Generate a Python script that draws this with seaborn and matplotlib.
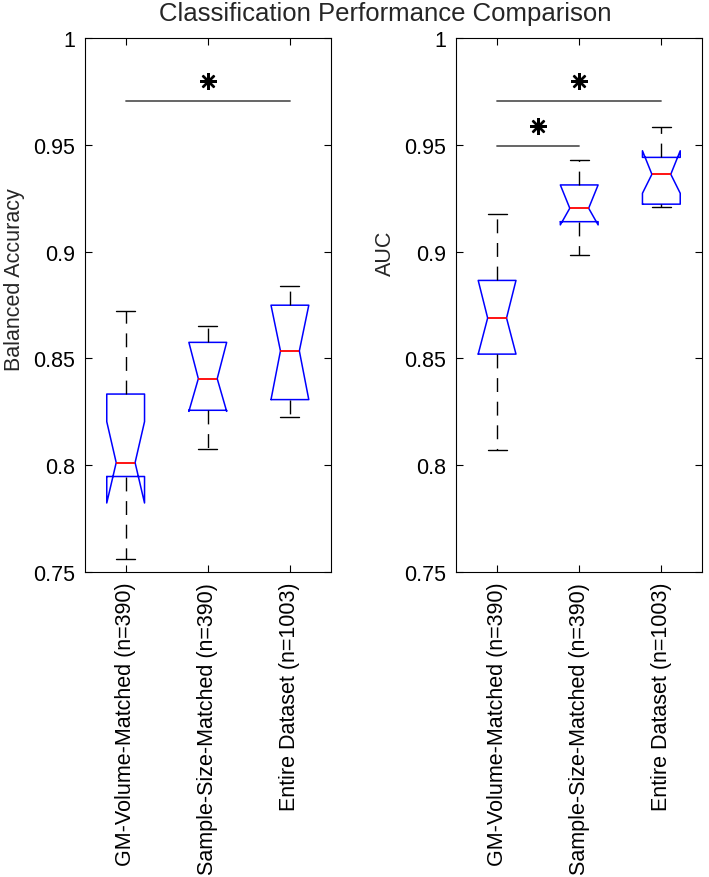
"""Notched box plots: balanced accuracy and AUC for three training sets."""
import matplotlib
matplotlib.use('Agg')
import matplotlib.pyplot as plt
import seaborn as sns

groups = ['GM-Volume-Matched (n=390)', 'Sample-Size-Matched (n=390)', 'Entire Dataset (n=1003)']
positions = [1, 2, 3]

# balanced accuracy: whiskers, quartiles, median, notch limits
bacc_lo = [0.7562, 0.8076, 0.8227]
bacc_q1 = [0.7947, 0.8257, 0.8307]
bacc_med = [0.8012, 0.8405, 0.8535]
bacc_q3 = [0.8333, 0.8575, 0.8749]
bacc_hi = [0.8720, 0.8653, 0.8840]
bacc_cilo = [0.7823, 0.8252, 0.8307]
bacc_cihi = [0.8204, 0.8575, 0.8749]

# AUC
auc_lo = [0.8073, 0.8984, 0.9208]
auc_q1 = [0.8520, 0.9140, 0.9222]
auc_med = [0.8689, 0.9203, 0.9362]
auc_q3 = [0.8865, 0.9312, 0.9441]
auc_hi = [0.9178, 0.9431, 0.9583]
auc_cilo = [0.8520, 0.9125, 0.9273]
auc_cihi = [0.8865, 0.9312, 0.9472]

# significance brackets (from group, to group, bar height)
bacc_sig_from = [1]
bacc_sig_to = [3]
bacc_sig_y = [0.9703]
auc_sig_from = [1, 1]
auc_sig_to = [3, 2]
auc_sig_y = [0.9703, 0.9494]

ytick_vals = [0.75, 0.8, 0.85, 0.9, 0.95, 1.0]
ytick_labels = ['0.75', '0.8', '0.85', '0.9', '0.95', '1']

sns.set_theme(style='ticks')
plt.rcParams['font.family'] = ['Liberation Sans', 'DejaVu Sans']


def make_stats(lo, q1, med, q3, hi, cilo, cihi):
    stats = []
    for i in range(len(med)):
        stats.append(dict(whislo=lo[i], q1=q1[i], med=med[i], q3=q3[i], whishi=hi[i],
                          cilo=cilo[i], cihi=cihi[i], fliers=[]))
    return stats


def draw_panel(ax, stats, ylabel, label_xy, sig_from, sig_to, sig_y):
    ax.bxp(stats, positions=positions, widths=0.46, shownotches=True, showfliers=False,
           manage_ticks=False,
           boxprops=dict(color='#0000ff', linewidth=1.1),
           medianprops=dict(color='#ff0000', linewidth=1.3),
           whiskerprops=dict(color='black', linewidth=1.0, linestyle=(0, (10, 7))),
           capprops=dict(color='black', linewidth=1.0))
    for a, b, y in zip(sig_from, sig_to, sig_y):
        ax.plot([a, b], [y, y], color='0.35', linewidth=1.3)
        ax.plot([(a + b) / 2], [y + 0.0095], marker=(8, 2, 0), markersize=12,
                markeredgewidth=1.7, color='black', linestyle='none')
    ax.set_xlim(0.5, 3.5)
    ax.set_ylim(0.75, 1.0)
    ax.set_xticks(positions)
    ax.set_xticklabels(groups, rotation=90, ha='center', va='top', fontsize=15.5)
    ax.set_yticks(ytick_vals)
    ax.set_yticklabels(ytick_labels, fontsize=15.5)
    ax.tick_params(direction='in', length=5, width=0.8, top=True, right=True,
                   labeltop=False, labelright=False, pad=7, colors='black')
    for s in ax.spines.values():
        s.set_linewidth(0.8)
        s.set_color('black')
    ax.set_ylabel(ylabel, fontsize=15.5, va='center')
    ax.yaxis.set_label_coords(*label_xy)
    ax.grid(False)


fig = plt.figure(figsize=(7.09, 8.78), dpi=100)
ax1 = fig.add_axes([0.1193, 0.3474, 0.3475, 0.6082])
ax2 = fig.add_axes([0.6432, 0.3474, 0.3475, 0.6082])

draw_panel(ax1, make_stats(bacc_lo, bacc_q1, bacc_med, bacc_q3, bacc_hi, bacc_cilo, bacc_cihi),
           'Balanced Accuracy', (-0.2825, 0.549), bacc_sig_from, bacc_sig_to, bacc_sig_y)
draw_panel(ax2, make_stats(auc_lo, auc_q1, auc_med, auc_q3, auc_hi, auc_cilo, auc_cihi),
           'AUC', (-0.288, 0.599), auc_sig_from, auc_sig_to, auc_sig_y)

fig.text(385 / 709, 1 - 14 / 878, 'Classification Performance Comparison',
         ha='center', va='center', fontsize=18.5)

fig.savefig('out.png', dpi=100)
plt.close(fig)
